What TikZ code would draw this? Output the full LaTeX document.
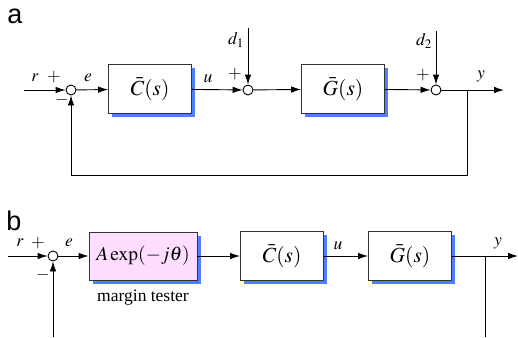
\documentclass[tikz,border=0pt]{standalone}
\usepackage{mathptmx}
\usepackage{fontspec}
\setmainfont{Liberation Serif}
\newfontfamily\panelfont{Liberation Sans}
\usepackage{tikz}
\usetikzlibrary{arrows.meta,positioning,calc,shadows}
\definecolor{ShadowBlue}{HTML}{4F7FFF}
\definecolor{TesterPink}{HTML}{FFDDFF}
\definecolor{BoxEdge}{HTML}{333333}

\begin{document}
\begin{tikzpicture}[
    x=1pt, y=-1pt,
    line width=0.9pt,
    sig/.style={draw=black, -{Latex[length=10pt,width=6.5pt]}},
    sumnode/.style={draw=black, circle, fill=white, minimum size=10pt, inner sep=0pt},
    blockbox/.style={draw=BoxEdge, fill=white, minimum width=83pt, minimum height=49pt,
      inner sep=0pt, font=\fontsize{21.5}{24}\selectfont,
      drop shadow={shadow xshift=3.5pt, shadow yshift=-3.5pt, fill=ShadowBlue, opacity=1}},
    tester/.style={blockbox, fill=TesterPink, minimum width=108pt, minimum height=48pt,
      font=\fontsize{19.5}{22}\selectfont},
    lbl/.style={inner sep=0pt, font=\fontsize{17.5}{19}\selectfont},
    panel/.style={inner sep=0pt, font=\panelfont\fontsize{27}{30}\selectfont}
  ]
  \useasboundingbox (0,0) rectangle (518,337);

  % --- a: loop with two disturbances
  \node[panel] (tagA) at (15,16) {a};
  \coordinate (ra) at (24,90);
  \node[sumnode] (sa1) at (71,90) {};
  \node[blockbox] (ca) at (150,89) {$\bar{C}(s)$};
  \node[sumnode] (sa2) at (248,90) {};
  \node[blockbox] (ga) at (343,89) {$\bar{G}(s)$};
  \node[sumnode] (sa3) at (436,90) {};
  \coordinate (ba) at (467,90);
  \coordinate (ya) at (504,90);
  \coordinate (fa) at (71,175);
  \coordinate (d1top) at (248,28);
  \coordinate (d2top) at (436,31);

  \draw[sig] (ra) -- (sa1);
  \draw[sig] (sa1) -- (ca);
  \draw[sig] (ca) -- (sa2);
  \draw[sig] (sa2) -- (ga);
  \draw[sig] (ga) -- (sa3);
  \draw[sig] (sa3) -- (ya);
  \draw[sig] (d1top) -- (sa2);
  \draw[sig] (d2top) -- (sa3);
  \draw[sig] (ba) |- (fa) -- (sa1);

  \node[lbl] (rA) at (35,78) {$r$};
  \node[lbl] (pA1) at (54,77) {$+$};
  \node[lbl] (mA1) at (62,100) {$-$};
  \node[lbl] (eA) at (88,78) {$e$};
  \node[lbl] (uA) at (208,79) {$u$};
  \node[lbl] (pA2) at (235,74) {$+$};
  \node[lbl] (d1) at (236,40) {$d_1$};
  \node[lbl] (pA3) at (423,75) {$+$};
  \node[lbl] (d2) at (424,41) {$d_2$};
  \node[lbl] (yA) at (481,76) {$y$};

  % --- b: same loop with the margin tester in front
  \node[panel] (tagB) at (14,221) {b};
  \coordinate (rb) at (8,256);
  \node[sumnode] (sb) at (53,256) {};
  \node[tester] (mt) at (143,256) {$A\exp(-j\theta)$};
  \node[lbl, below=9pt of mt] (mtname) {margin tester};
  \node[blockbox] (cb) at (282,256) {$\bar{C}(s)$};
  \node[blockbox] (gb) at (410,256) {$\bar{G}(s)$};
  \coordinate (bb) at (485,256);
  \coordinate (yb) at (518,256);
  \coordinate (fb) at (53,337);
  \coordinate (fbb) at (485,337);

  \draw[sig] (rb) -- (sb);
  \draw[sig] (sb) -- (mt);
  \draw[sig] (mt) -- (cb);
  \draw[sig] (cb) -- (gb);
  \draw[sig] (gb) -- (yb);
  \draw (bb) -- (fbb);
  \draw[sig] (fb) -- (sb);

  \node[lbl] (rB) at (20,243) {$r$};
  \node[lbl] (pB) at (38,243) {$+$};
  \node[lbl] (mB) at (43,275) {$-$};
  \node[lbl] (eB) at (69,243) {$e$};
  \node[lbl] (uB) at (338,246) {$u$};
  \node[lbl] (yB) at (498,243) {$y$};
\end{tikzpicture}
\end{document}
